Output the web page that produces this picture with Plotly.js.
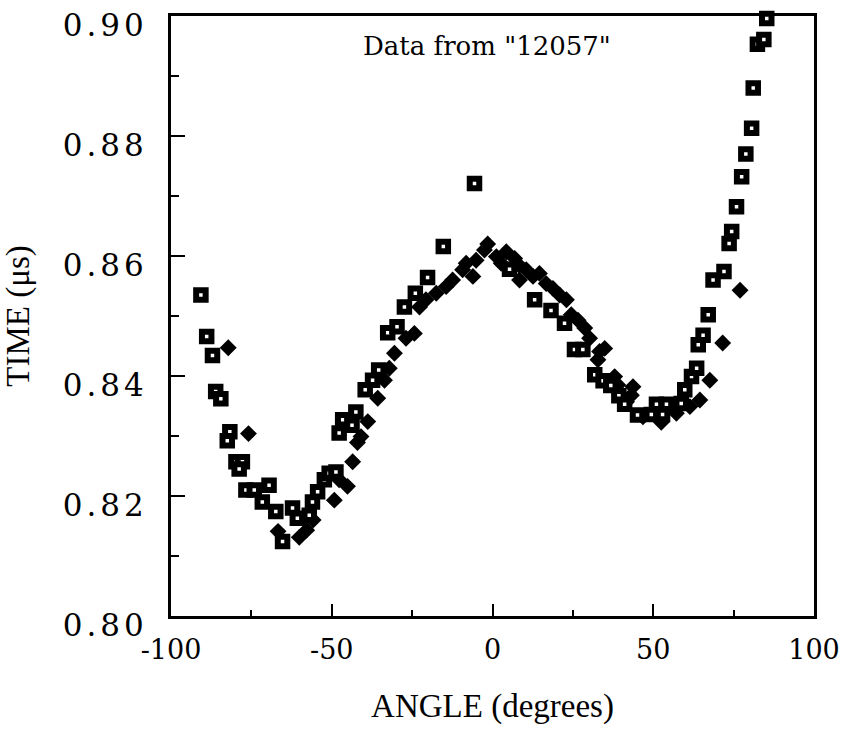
<!DOCTYPE html>
<html>
<head>
<meta charset="utf-8">
<script src="https://cdn.plot.ly/plotly-3.0.1.min.js"></script>
<style>
  html, body { margin: 0; padding: 0; background: #fff; }
  #chart { width: 847px; height: 732px; }
  .yaxislayer-above .ytick text { letter-spacing: 4px; }
</style>
</head>
<body>
<div id="chart"></div>
<script>
// Open squares (series A)
const angleSquares = [-90.7, -88.9, -87.1, -86.1, -84.5, -81.7, -82.5, -79.8, -77.8, -78.8,
  -76.7, -74.1, -69.5, -71.6, -67.4, -65.3, -62.2, -60.7, -57.0, -56.0,
  -54.4, -52.3, -50.8, -48.7, -47.7, -46.6, -43.7, -42.5, -39.6, -37.3,
  -35.4, -32.6, -29.7, -27.4, -24.0, -20.2, -15.3, -5.6, 5.3, 13.1,
  18.2, 22.4, 25.5, 28.1, 31.8, 34.4, 36.8, 39.3, 41.1, 45.1,
  49.4, 51.0, 52.9, 54.1, 58.7, 59.8, 61.9, 63.5, 64.0, 65.5,
  67.1, 68.6, 72.0, 73.6, 74.4, 75.9, 77.5, 78.8, 80.6, 81.1,
  82.4, 84.4, 85.3];
const timeSquares = [0.8535, 0.8466, 0.8434, 0.8374, 0.8362, 0.8307, 0.8292, 0.8257, 0.8257, 0.8245,
  0.8210, 0.8210, 0.8218, 0.8190, 0.8174, 0.8124, 0.8180, 0.8163, 0.8168, 0.8190,
  0.8207, 0.8227, 0.8238, 0.8240, 0.8305, 0.8327, 0.8318, 0.8340, 0.8377, 0.8393,
  0.8410, 0.8472, 0.8482, 0.8515, 0.8538, 0.8564, 0.8616, 0.8721, 0.8578, 0.8527,
  0.8509, 0.8488, 0.8444, 0.8444, 0.8402, 0.8392, 0.8384, 0.8367, 0.8353, 0.8335,
  0.8336, 0.8353, 0.8336, 0.8353, 0.8354, 0.8377, 0.8399, 0.8413, 0.8452, 0.8468,
  0.8502, 0.8560, 0.8574, 0.8621, 0.8641, 0.8682, 0.8732, 0.8770, 0.8813, 0.8880,
  0.8953, 0.8961, 0.8996];

// Filled diamonds (series B)
const angleDiamonds = [-82.2, -75.9, -66.7, -60.1, -57.8, -55.8, -49.2, -47.7, -45.1, -43.5,
  -42.0, -40.9, -38.8, -35.7, -33.6, -32.1, -30.5, -26.9, -24.3, -22.7,
  -20.7, -17.5, -14.4, -12.4, -9.3, -8.2, -6.1, -5.1, -2.5, -1.5,
  1.2, 2.7, 4.3, 6.9, 8.4, 8.4, 10.5, 12.6, 14.6, 16.7,
  18.8, 20.9, 23.0, 24.5, 26.6, 28.7, 30.2, 32.8, 33.3, 34.9,
  38.0, 39.0, 41.7, 43.2, 43.7, 46.8, 52.5, 57.2, 61.4, 64.5,
  67.6, 71.6, 77.0];
const timeDiamonds = [0.8447, 0.8304, 0.8141, 0.8131, 0.8143, 0.8160, 0.8193, 0.8227, 0.8216, 0.8257,
  0.8289, 0.8299, 0.8324, 0.8363, 0.8393, 0.8413, 0.8438, 0.8463, 0.8471, 0.8515,
  0.8527, 0.8538, 0.8549, 0.8560, 0.8577, 0.8588, 0.8566, 0.8593, 0.8610, 0.8620,
  0.8599, 0.8588, 0.8607, 0.8596, 0.8584, 0.8560, 0.8577, 0.8566, 0.8571, 0.8554,
  0.8546, 0.8535, 0.8527, 0.8502, 0.8493, 0.8480, 0.8463, 0.8427, 0.8441, 0.8446,
  0.8399, 0.8385, 0.8357, 0.8368, 0.8382, 0.8332, 0.8323, 0.8338, 0.8349, 0.8360,
  0.8393, 0.8455, 0.8543];

const xTickVals = [-100, -50, 0, 50, 100];
const xTickText = ["-100", "-50", "0", "50", "100"];
const yTickVals = [0.80, 0.82, 0.84, 0.86, 0.88, 0.90];
const yTickText = ["0.80", "0.82", "0.84", "0.86", "0.88", "0.90"];

const traces = [
  {
    type: "scatter", mode: "markers", name: "diamonds",
    x: angleDiamonds, y: timeDiamonds,
    marker: { symbol: "diamond", size: 13, color: "#000", line: { width: 0 } },
    cliponaxis: false, showlegend: false
  },
  {
    type: "scatter", mode: "markers", name: "squares",
    x: angleSquares, y: timeSquares,
    marker: { symbol: "square", size: 9.5, color: "#fff", line: { color: "#000", width: 6 } },
    cliponaxis: false, showlegend: false
  }
];

const layout = {
  width: 847, height: 732,
  margin: { l: 171, r: 33, t: 16, b: 116 },
  paper_bgcolor: "#fff", plot_bgcolor: "#fff",
  font: { family: "DejaVu Serif, serif", color: "#000" },
  xaxis: {
    range: [-100.001, 100.001],
    tickmode: "array", tickvals: xTickVals, ticktext: xTickText,
    ticks: "inside", ticklen: 12, tickwidth: 2, tickcolor: "#000",
    minor: { dtick: 25, ticks: "inside", ticklen: 6, tickwidth: 2, tickcolor: "#000", showgrid: false },
    showline: true, linecolor: "#000", linewidth: 3, mirror: true,
    showgrid: false, zeroline: false,
    tickfont: { family: "DejaVu Serif, serif", size: 27, color: "#000" },
    ticklabelstandoff: 8,
    title: { text: "ANGLE (degrees)", font: { family: "Liberation Serif, serif", size: 33, color: "#000" }, standoff: 30 }
  },
  yaxis: {
    range: [0.79999, 0.90001],
    tickmode: "array", tickvals: yTickVals, ticktext: yTickText,
    ticks: "inside", ticklen: 14, tickwidth: 2, tickcolor: "#000",
    minor: { dtick: 0.01, ticks: "inside", ticklen: 8, tickwidth: 2, tickcolor: "#000", showgrid: false },
    showline: true, linecolor: "#000", linewidth: 3, mirror: true,
    showgrid: false, zeroline: false,
    ticklabeloverflow: "allow",
    ticklabelshift: 9,
    tickfont: { family: "DejaVu Serif, serif", size: 31, color: "#000" },
    ticklabelstandoff: 14,
    title: { text: "TIME (μs)", font: { family: "Liberation Serif, serif", size: 33, color: "#000" }, standoff: 40 }
  },
  annotations: [
    {
      text: "Data from \"12057\"", xref: "paper", yref: "paper",
      x: 0.491, y: 0.95, xanchor: "center", yanchor: "middle", showarrow: false,
      font: { family: "DejaVu Serif, serif", size: 26, color: "#000" }
    }
  ]
};

Plotly.newPlot("chart", traces, layout, { staticPlot: true, displayModeBar: false });
</script>
</body>
</html>
